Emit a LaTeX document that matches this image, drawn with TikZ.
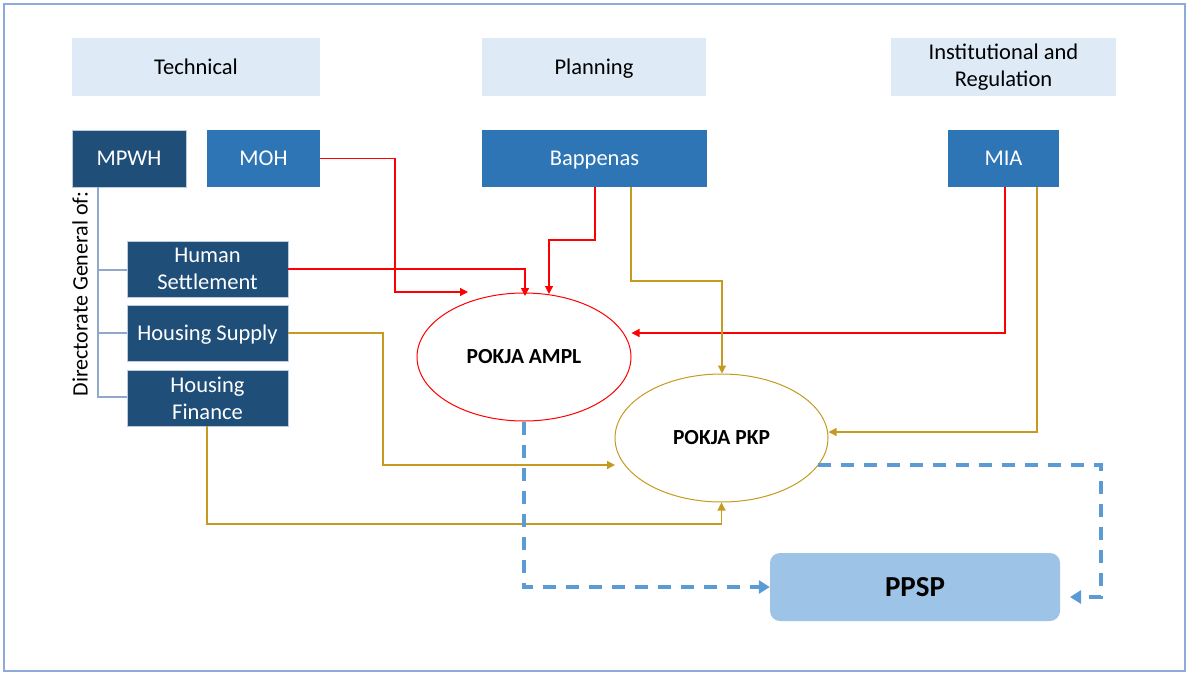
\documentclass[tikz,border=0pt]{standalone}
\usepackage{fontspec}
\setmainfont{Carlito}
\usetikzlibrary{arrows.meta,shapes.geometric,calc}
\definecolor{darkbox}{HTML}{1F4E79}
\definecolor{midbox}{HTML}{2E75B6}
\definecolor{headbox}{HTML}{DEEBF7}
\definecolor{ppspfill}{HTML}{9DC3E6}
\definecolor{dashblue}{HTML}{5B9BD5}
\definecolor{gold}{HTML}{C59A1E}
\definecolor{treeline}{HTML}{8FAAC8}
\definecolor{frame}{HTML}{8EA9DB}
\begin{document}
\begin{tikzpicture}[x=1pt,y=-1pt,
  head/.style={fill=headbox,inner sep=0,text=black,font=\fontsize{22.5}{27}\selectfont,align=center},
  dbox/.style={fill=darkbox,draw=treeline!60!white,line width=0.6pt,inner sep=0,text=white,font=\fontsize{22.5}{27}\selectfont,align=center},
  mbox/.style={fill=midbox,inner sep=0,text=white,font=\fontsize{22.5}{27}\selectfont,align=center},
  oneline/.style={text height=18.5pt,text depth=4pt},
  redarr/.style={draw=red,line width=1.2pt,-{Triangle[length=8pt,width=8pt]}},
  goldarr/.style={draw=gold,line width=1.2pt,-{Triangle[length=8pt,width=8pt]}},
  bluedash/.style={draw=dashblue,line width=3.3pt,dash pattern=on 13pt off 10pt,-{Triangle[length=11pt,width=13pt]}},
  tree/.style={draw=treeline,line width=1.5pt}]
\useasboundingbox (0,0) rectangle (1189,675);
\draw[frame,line width=1.2pt] (4,4) rectangle (1185,671);
% headers
\node[head,oneline,minimum width=248pt,minimum height=58pt] (tech) at (196,67) {Technical};
\node[head,oneline,minimum width=224pt,minimum height=58pt] (plan) at (594,67) {Planning};
\node[head,minimum width=225pt,minimum height=58pt] (inst) at (1003.5,67) {Institutional and\\Regulation};
% top boxes
\node[dbox,oneline,minimum width=114pt,minimum height=57pt] (mpwh) at (129,158.5) {MPWH};
\node[mbox,oneline,minimum width=113pt,minimum height=57pt] (moh) at (263.5,158.5) {MOH};
\node[mbox,oneline,minimum width=225pt,minimum height=57pt] (bap) at (594.5,158.5) {Bappenas};
\node[mbox,oneline,minimum width=111pt,minimum height=57pt] (mia) at (1003.5,158.5) {MIA};
% DG boxes
\node[dbox,minimum width=161pt,minimum height=56pt] (hs) at (207.5,269) {Human\\Settlement};
\node[dbox,oneline,minimum width=161pt,minimum height=56pt] (hsup) at (207.5,333) {Housing Supply};
\node[dbox,minimum width=161pt,minimum height=56pt] (hf) at (207.5,398) {Housing\\Finance};
% tree
\coordinate (tb) at (98,397);
\draw[tree] (mpwh.south -| 98,0) -- (tb) -- (hf.west |- tb);
\draw[tree] (98,270) -- (hs.west |- 0,270);
\draw[tree] (98,333) -- (hsup.west);
\node[rotate=90,font=\fontsize{22}{26}\selectfont,inner sep=0] (dg) at (80,294) {Directorate General of:};
% ellipses
\node[ellipse,draw=red,line width=1pt,minimum width=214pt,minimum height=128pt,inner sep=0,font=\bfseries\fontsize{21.5}{26}\selectfont] (ampl) at (524,357) {POKJA AMPL};
\node[ellipse,draw=gold,line width=1pt,minimum width=213pt,minimum height=128pt,inner sep=0,font=\bfseries\fontsize{21.5}{26}\selectfont] (pkp) at (721.5,438) {POKJA PKP};
% PPSP
\node[fill=ppspfill,rounded corners=10pt,minimum width=290pt,minimum height=68pt,inner sep=0,font=\bfseries\fontsize{29}{34}\selectfont] (ppsp) at (915,587) {PPSP};
% red arrows
\coordinate (mohend) at (468,292);
\draw[redarr] (moh.east) -- (395,158.5) -- (395,292) -- (mohend);
\coordinate (hsend) at (525,296);
\draw[redarr] (hs.east) -- (525,269) -- (hsend);
\coordinate (bapend) at (549,294);
\draw[redarr] (bap.south -| 595,0) -- (595,240) -- (549,240) -- (bapend);
\draw[redarr] (mia.south -| 1005,0) -- (1005,333) -- (ampl.east |- 0,333);
% gold arrows
\draw[goldarr] (bap.south -| 631,0) -- (631,281) -- (722,281) -- (pkp.north -| 722,0);
\draw[goldarr] (mia.south -| 1037,0) -- (1037,432) -- (pkp.east |- 0,432);
\coordinate (supend) at (615,465);
\draw[goldarr] (hsup.east) -- (383,333) -- (383,465) -- (supend);
\draw[goldarr] (hf.south -| 207,0) -- (207,524) -- (721.5,524) -- (pkp.south);
% blue dashed
\draw[bluedash] (ampl.south) -- (524,587) -- (ppsp.west);
\coordinate (pkpout) at (818,465);
\draw[bluedash] (pkpout) -- (1101,465) -- (1101,597) -- (1070,597);
\end{tikzpicture}
\end{document}
